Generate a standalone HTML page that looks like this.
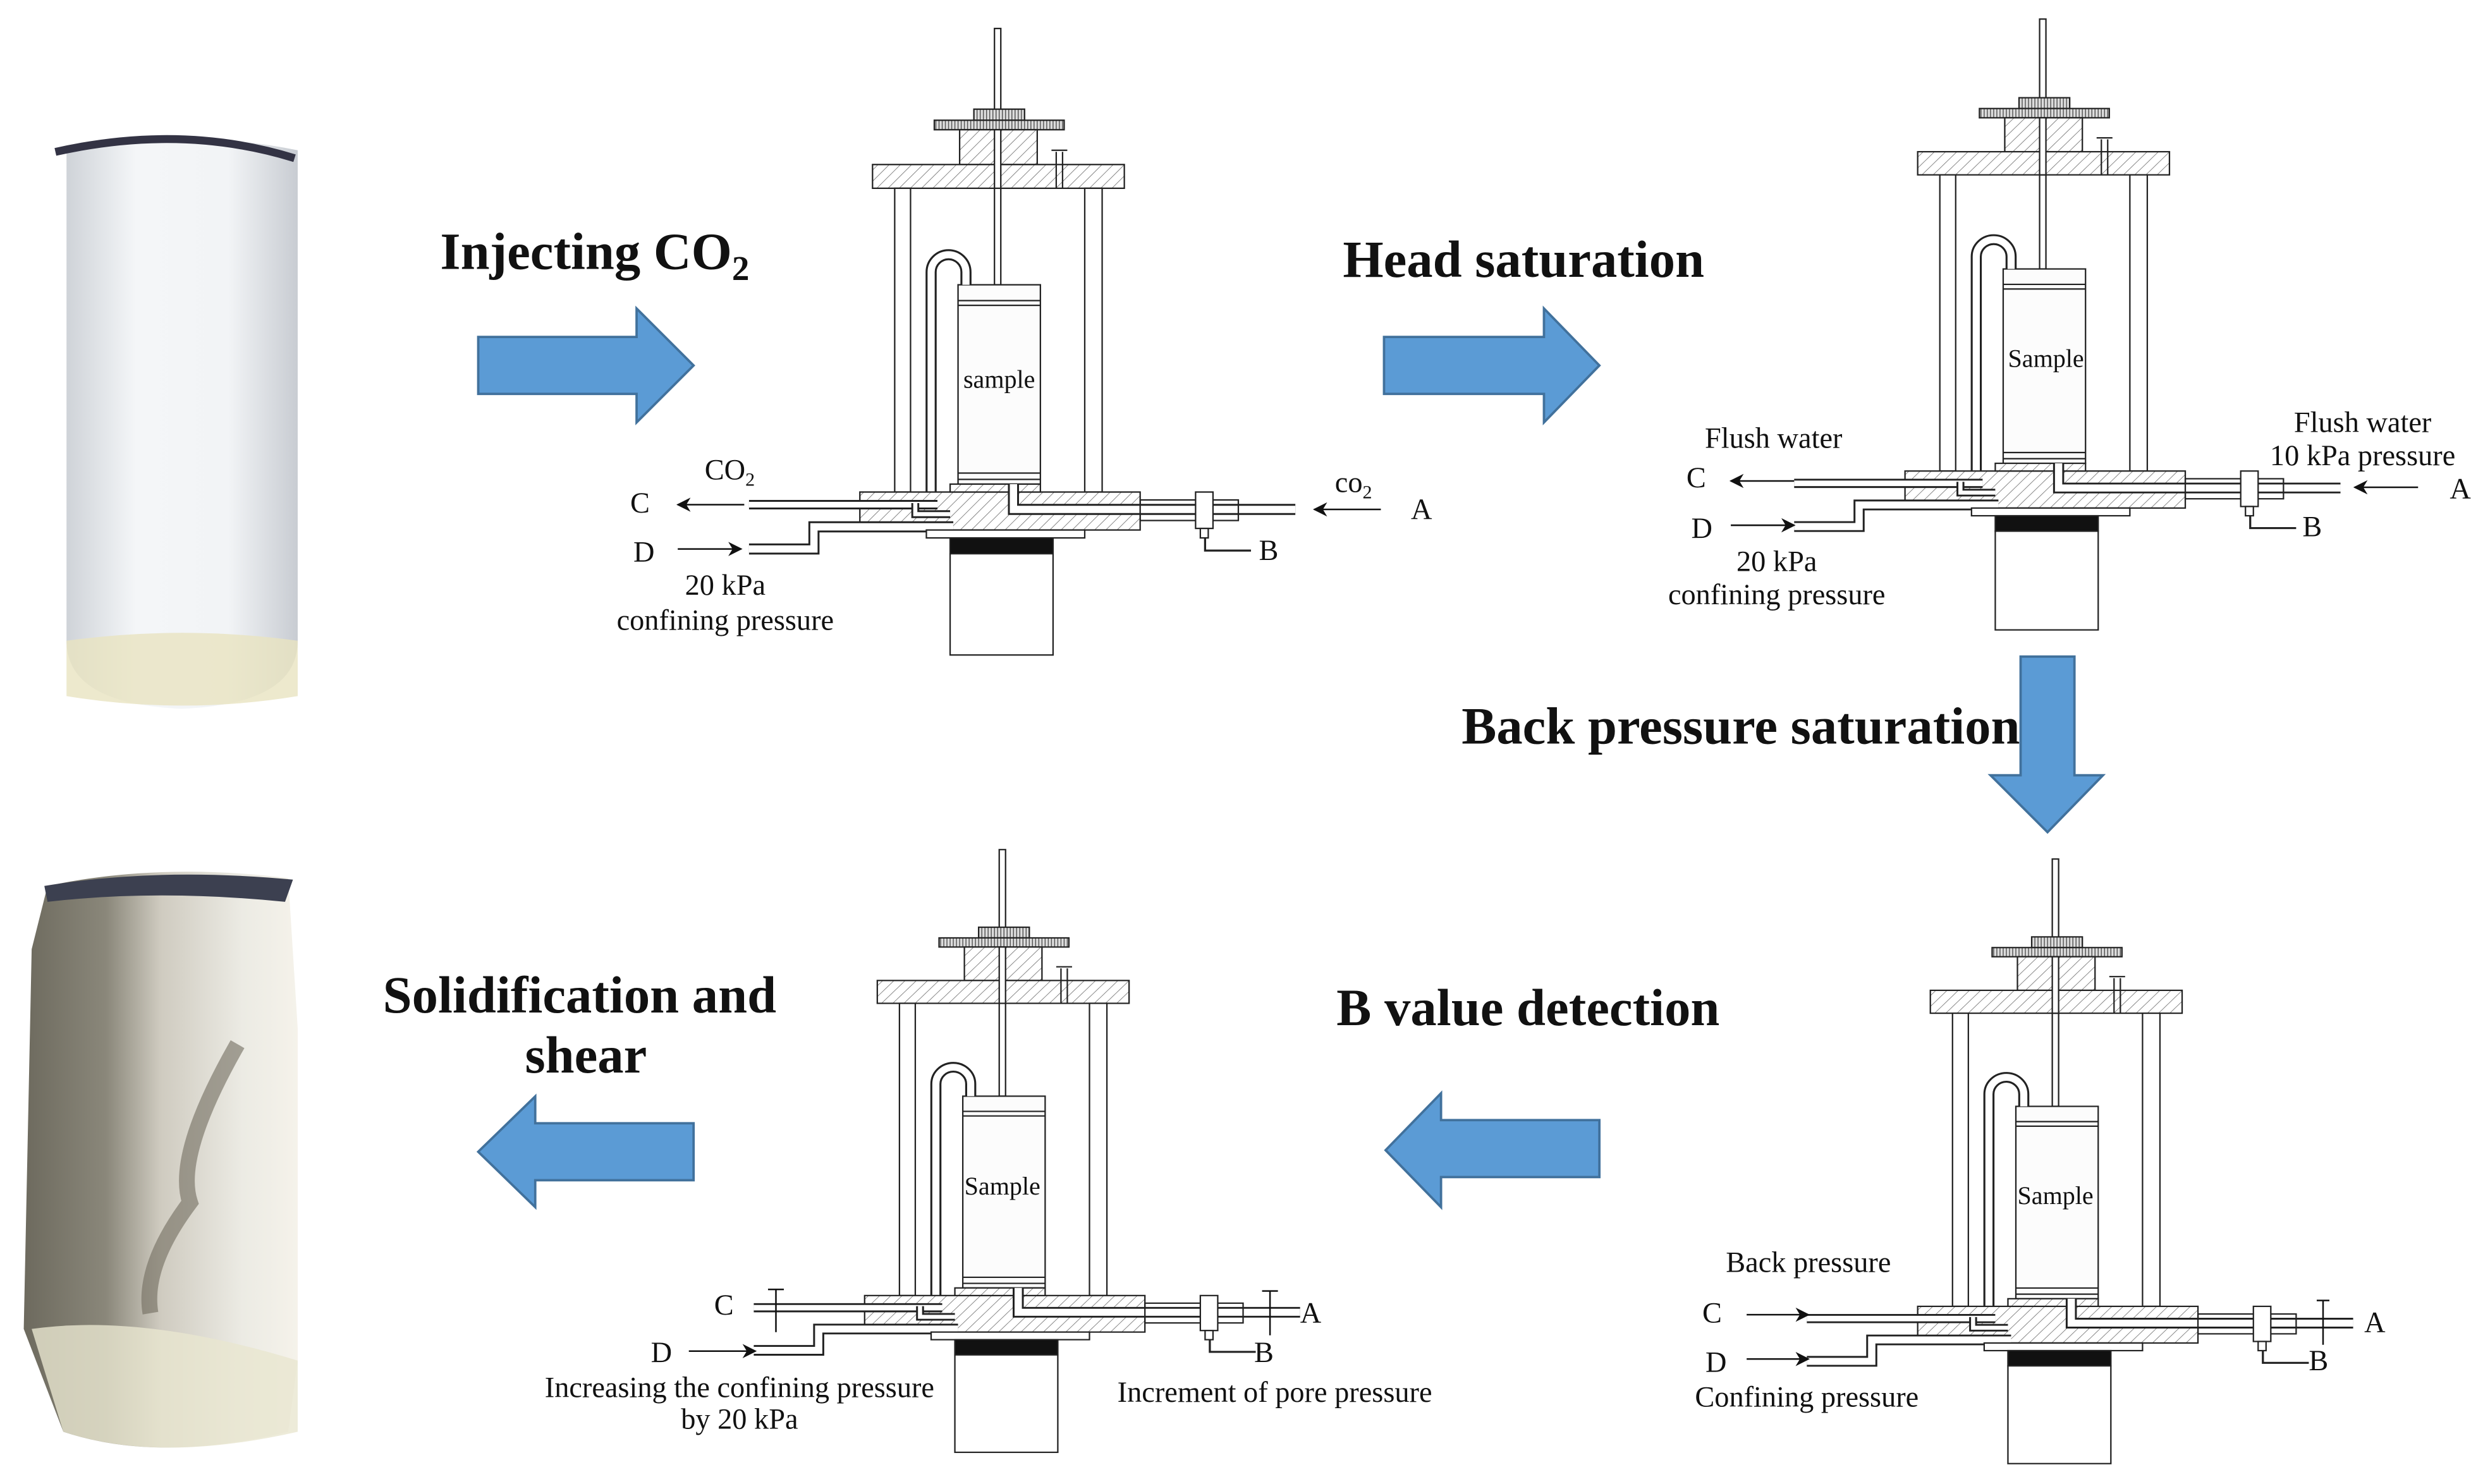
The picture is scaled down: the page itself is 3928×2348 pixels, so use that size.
<!DOCTYPE html>
<html><head><meta charset="utf-8"><style>
html,body{margin:0;padding:0;background:#fff;}
svg{display:block;}
text{font-family:"Liberation Serif",serif;fill:#111;}
.t{font-size:33px;font-weight:bold;}
.l{font-size:18.5px;}
</style></head><body>
<svg width="3928" height="2348" viewBox="0 0 1568 938" preserveAspectRatio="none" xmlns="http://www.w3.org/2000/svg">
<defs>
<pattern id="h" width="5" height="5" patternUnits="userSpaceOnUse" patternTransform="rotate(45)">
<rect width="5" height="5" fill="#fff"/><line x1="0" y1="0" x2="0" y2="5" stroke="#777" stroke-width="0.7"/></pattern>
<pattern id="k" width="2" height="4" patternUnits="userSpaceOnUse">
<rect width="2" height="4" fill="#ddd"/><line x1="1" y1="0" x2="1" y2="4" stroke="#555" stroke-width="0.6"/></pattern>
<linearGradient id="g1" x1="0" x2="1"><stop offset="0" stop-color="#cfd3d8"/><stop offset="0.3" stop-color="#f4f6f8"/><stop offset="0.7" stop-color="#f2f4f6"/><stop offset="1" stop-color="#c8ccd2"/></linearGradient>
<linearGradient id="g2" x1="0" x2="1"><stop offset="0" stop-color="#6d6a5e"/><stop offset="0.3" stop-color="#8a877a"/><stop offset="0.5" stop-color="#cfcbc0"/><stop offset="0.8" stop-color="#ecebe4"/><stop offset="1" stop-color="#f5f2ea"/></linearGradient>
<g id="app" stroke="#222" stroke-width="0.9">
<rect x="-2" y="18" width="4" height="162" fill="#fff"/>
<rect x="-15" y="69" width="32" height="7" fill="url(#k)"/>
<rect x="-40" y="76" width="82" height="6" fill="url(#k)"/>
<rect x="-24" y="82" width="49" height="22" fill="url(#h)"/>
<rect x="-79" y="104" width="159" height="15" fill="url(#h)"/>
<rect x="-2" y="82" width="4" height="37" fill="#fff"/>
<path d="M37 96V119M41 96V119M34 95H44" fill="none"/>
<rect x="-65" y="119" width="10" height="192" fill="#fff"/>
<rect x="55" y="119" width="11" height="192" fill="#fff"/>
<rect x="-25" y="180" width="52" height="126" fill="#fcfcfc"/>
<path d="M-25 190H27M-25 193H27M-25 299H27M-25 303H27" fill="none"/>
<path d="M-42 318V172A11 11 0 0 1 -20 172V180" fill="none" stroke="#222" stroke-width="7"/>
<path d="M-42 318V172A11 11 0 0 1 -20 172V180" fill="none" stroke="#fff" stroke-width="4.5"/>
<rect x="-87" y="311" width="177" height="24" fill="url(#h)"/>
<rect x="-30" y="306" width="57" height="5" fill="url(#h)"/>
<path d="M-157 319H-38" fill="none" stroke="#222" stroke-width="6"/>
<path d="M-157 319H-38" fill="none" stroke="#fff" stroke-width="3.6"/>
<path d="M-157 347H-116V333H-28" fill="none" stroke="#222" stroke-width="7"/>
<path d="M-157 347H-116V333H-28" fill="none" stroke="#fff" stroke-width="4.6"/>
<path d="M-30 325H-52V318" fill="none" stroke="#222" stroke-width="5"/>
<path d="M-30 325H-52V318" fill="none" stroke="#fff" stroke-width="2.6"/>
<path d="M10 306V322H188" fill="none" stroke="#222" stroke-width="7"/>
<path d="M10 306V322H188" fill="none" stroke="#fff" stroke-width="4.6"/>
<rect x="90" y="316" width="62" height="13" fill="none"/>
<rect x="125" y="311" width="11" height="23" fill="#fff"/>
<rect x="128" y="334" width="5" height="6" fill="#fff"/>
<path d="M131 340V348H160" fill="none" stroke-width="1.3"/>
<rect x="-45" y="335" width="100" height="5" fill="#fff"/>
<rect x="-30" y="340" width="65" height="10" fill="#111"/>
<rect x="-30" y="350" width="65" height="64" fill="#fff"/>
</g>
<marker id="ar" viewBox="0 0 10 10" refX="9" refY="5" markerWidth="9" markerHeight="9" orient="auto-start-reverse" markerUnits="userSpaceOnUse"><path d="M0 0L10 5L0 10L3 5Z" fill="#111"/></marker>
</defs>

<!-- photos -->
<path d="M42 95Q115 80 188 95V405Q188 445 115 448Q42 445 42 405Z" fill="url(#g1)"/>
<path d="M35 96Q115 78 186 100" stroke="#334" stroke-width="5" fill="none"/>
<path d="M42 405Q115 395 188 405V440Q115 452 42 440Z" fill="#e9e4c0" opacity="0.8"/>
<path d="M30 560Q100 545 182 555L188 650V860L182 905Q100 925 40 905L15 840L20 600Z" fill="url(#g2)"/>
<path d="M28 560Q100 548 185 556L180 570Q100 562 30 570Z" fill="#3c4050"/>
<path d="M20 840Q90 830 188 860V905Q100 925 40 905Z" fill="#e9e6cf" opacity="0.8"/>
<path d="M150 660Q110 730 120 760Q90 800 95 830" stroke="#6f6b5d" stroke-width="10" fill="none" opacity="0.6"/>

<!-- blue arrows -->
<g fill="#5b9bd5" stroke="#41719c" stroke-width="1.5">
<path d="M302 213H402V195L438 231L402 267V249H302Z"/>
<path d="M874 213H975V195L1010 231L975 267V249H874Z"/>
<path d="M1276 415H1310V490H1328L1293 526L1257 490H1276Z"/>
<path d="M1010 708H910V691L875 727L910 763V744H1010Z"/>
<path d="M438 710H338V693L302 728L338 763V746H438Z"/>
</g>

<!-- titles -->
<text class="t" x="278" y="170">Injecting CO<tspan font-size="22" dy="7">2</tspan></text>
<text class="t" x="848" y="175">Head saturation</text>
<text class="t" x="923" y="470">Back pressure saturation</text>
<text class="t" x="844" y="648">B value detection</text>
<text class="t" x="366" y="640" text-anchor="middle">Solidification and</text>
<text class="t" x="370" y="678" text-anchor="middle">shear</text>

<!-- apparatus -->
<use href="#app" transform="translate(630,0)"/>
<use href="#app" transform="translate(1290,-5.5) scale(1,0.975)"/>
<use href="#app" transform="translate(1298,525.6) scale(1,0.965)"/>
<use href="#app" transform="translate(633,519.7) scale(1,0.962)"/>

<g class="l">
<!-- app1 -->
<text x="631" y="245" text-anchor="middle" font-size="16">sample</text>
<text x="445" y="303" class="l">CO<tspan font-size="12" dy="4">2</tspan></text>
<text x="398" y="324" class="l">C</text>
<line x1="470" y1="319" x2="428" y2="319" stroke="#111" marker-end="url(#ar)"/>
<text x="400" y="355" class="l">D</text>
<line x1="428" y1="347" x2="468" y2="347" stroke="#111" marker-end="url(#ar)"/>
<text x="458" y="376" text-anchor="middle" class="l">20 kPa</text>
<text x="458" y="398" text-anchor="middle" class="l">confining pressure</text>
<text x="843" y="311" class="l">co<tspan font-size="12" dy="4">2</tspan></text>
<line x1="872" y1="322" x2="830" y2="322" stroke="#111" marker-end="url(#ar)"/>
<text x="891" y="328" class="l">A</text>
<text x="795" y="354" class="l">B</text>
<!-- app2 -->
<text x="1292" y="232" text-anchor="middle" font-size="16">Sample</text>
<text x="1120" y="283" text-anchor="middle" class="l">Flush water</text>
<text x="1065" y="308" class="l">C</text>
<line x1="1133" y1="304" x2="1093" y2="304" stroke="#111" marker-end="url(#ar)"/>
<text x="1068" y="340" class="l">D</text>
<line x1="1093" y1="332" x2="1133" y2="332" stroke="#111" marker-end="url(#ar)"/>
<text x="1122" y="361" text-anchor="middle" class="l">20 kPa</text>
<text x="1122" y="382" text-anchor="middle" class="l">confining pressure</text>
<text x="1492" y="273" text-anchor="middle" class="l">Flush water</text>
<text x="1492" y="294" text-anchor="middle" class="l">10 kPa pressure</text>
<line x1="1527" y1="308" x2="1487" y2="308" stroke="#111" marker-end="url(#ar)"/>
<text x="1547" y="315" class="l">A</text>
<text x="1454" y="339" class="l">B</text>
<!-- app3 -->
<text x="1298" y="761" text-anchor="middle" font-size="16">Sample</text>
<text x="1142" y="804" text-anchor="middle" class="l">Back pressure</text>
<text x="1075" y="836" class="l">C</text>
<line x1="1103" y1="831" x2="1142" y2="831" stroke="#111" marker-end="url(#ar)"/>
<text x="1077" y="867" class="l">D</text>
<line x1="1103" y1="859" x2="1142" y2="859" stroke="#111" marker-end="url(#ar)"/>
<text x="1141" y="889" text-anchor="middle" class="l">Confining pressure</text>
<path d="M1467 822V850M1463 822H1471" stroke="#111"/>
<text x="1493" y="842" class="l">A</text>
<text x="1458" y="866" class="l">B</text>
<!-- app4 -->
<text x="633" y="755" text-anchor="middle" font-size="16">Sample</text>
<text x="451" y="831" class="l">C</text>
<path d="M490 815V842M485 815H495" stroke="#111"/>
<text x="411" y="861" class="l">D</text>
<line x1="435" y1="854" x2="477" y2="854" stroke="#111" marker-end="url(#ar)"/>
<text x="467" y="883" text-anchor="middle" class="l">Increasing the confining pressure</text>
<text x="467" y="903" text-anchor="middle" class="l">by 20 kPa</text>
<path d="M802 816V844M797 816H807" stroke="#111"/>
<text x="821" y="836" class="l">A</text>
<text x="792" y="861" class="l">B</text>
<text x="805" y="886" text-anchor="middle" class="l">Increment of pore pressure</text>
</g>
</svg>
</body></html>
